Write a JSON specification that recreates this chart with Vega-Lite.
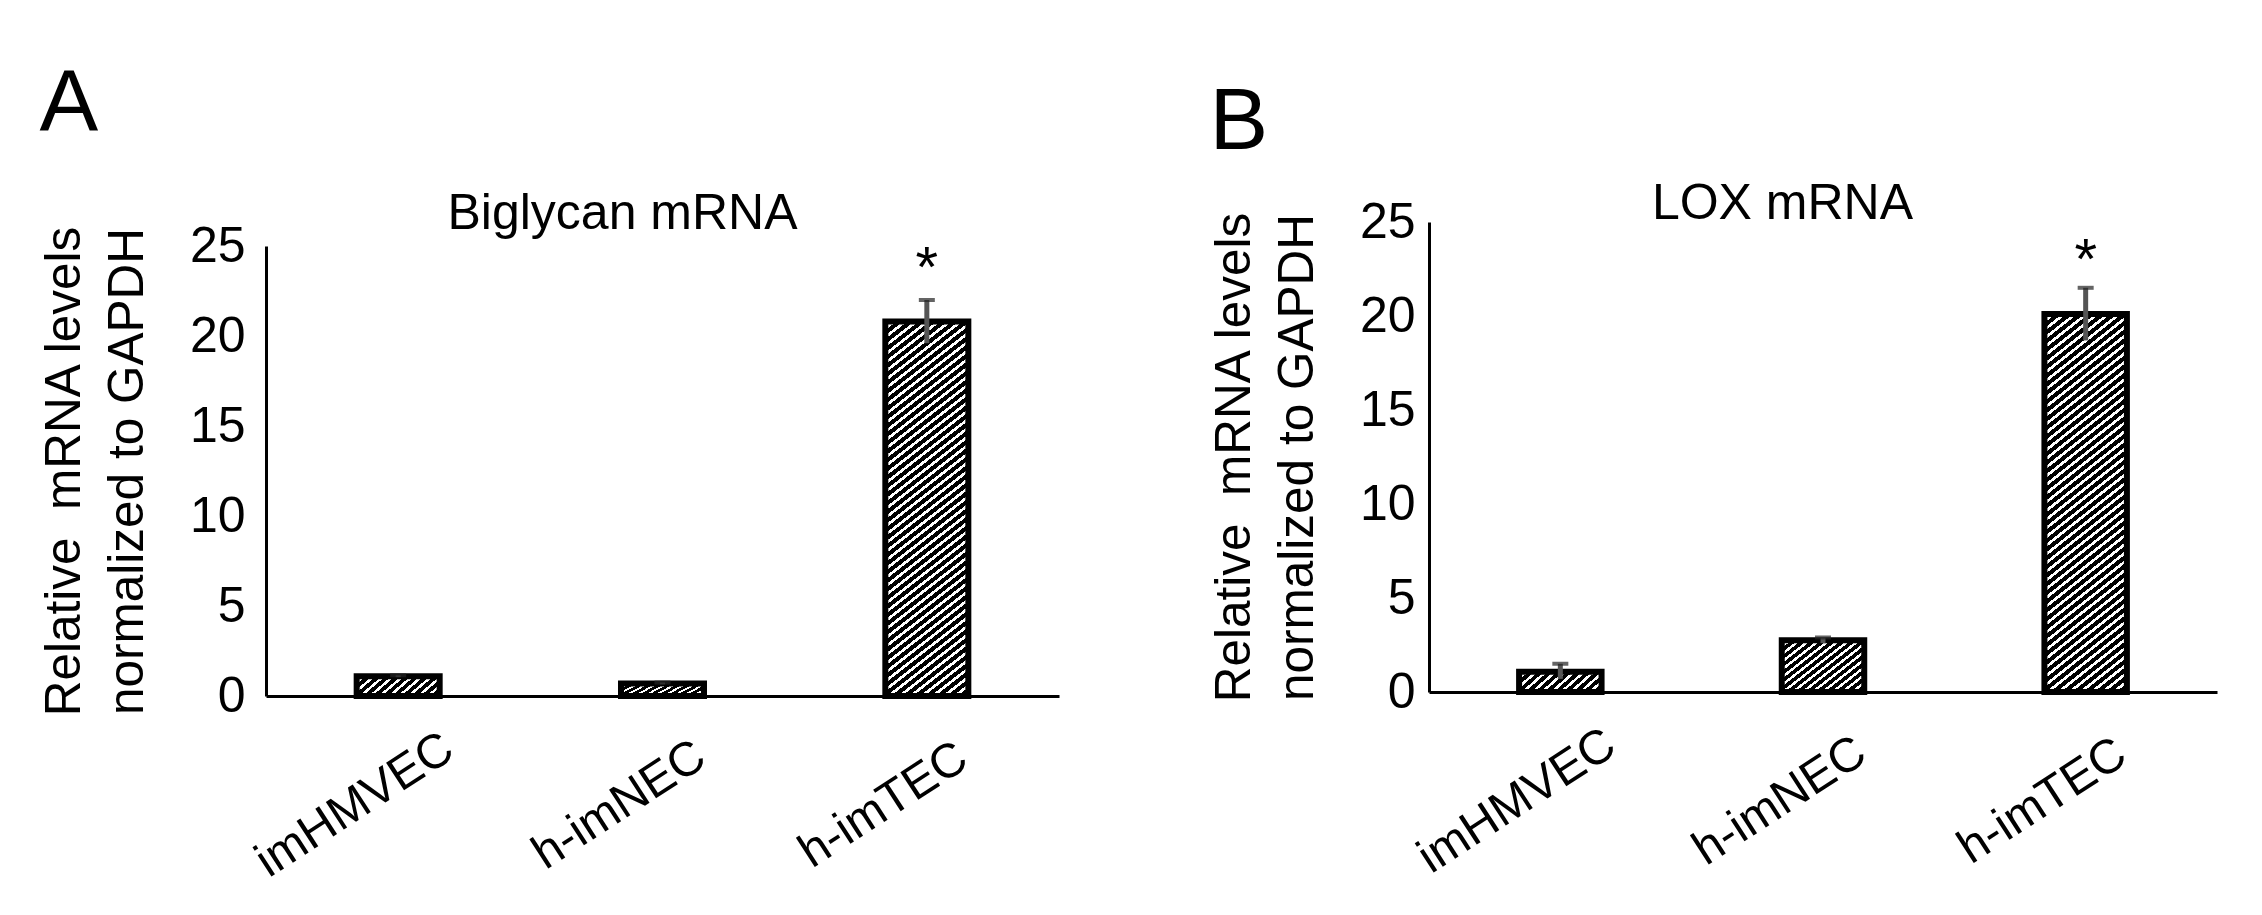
{
  "$schema": "https://vega.github.io/schema/vega-lite/v6.json",
  "background": "white",
  "bounds": "flush",
  "spacing": 370,
  "padding": {"top": 60, "left": 39, "right": 10, "bottom": 10},
  "config": {
    "font": "Liberation Sans",
    "view": {"stroke": null},
    "axis": {"labelColor": "#000", "titleColor": "#000", "domainColor": "#000", "labelFont": "Liberation Sans", "titleFont": "Liberation Sans", "titleFontWeight": "normal", "grid": false},
    "title": {"color": "#000", "fontWeight": "normal", "font": "Liberation Sans"}
  },
  "hconcat": [
    {
      "width": 793,
      "height": 474,
      "title": {"text": "A", "anchor": "start", "frame": "bounds", "fontSize": 88, "offset": 40},
      "data": {"values": [
        {"cell": "imHMVEC", "value": 1.1, "lower": 1.05, "upper": 1.15, "sig": ""},
        {"cell": "h-imNEC", "value": 0.7, "lower": 0.65, "upper": 0.75, "sig": ""},
        {"cell": "h-imTEC", "value": 20.8, "lower": 19.6, "upper": 22.0, "sig": "*"}
      ]},
      "resolve": {"axis": {"x": "independent", "y": "independent"}},
      "layer": [
        {
          "mark": {"type": "bar", "stroke": "#000", "strokeWidth": 6},
          "encoding": {
            "x": {"field": "cell", "type": "nominal", "sort": null, "scale": {"paddingInner": 0.686, "paddingOuter": 0.343},
              "axis": {"orient": "bottom", "title": null, "labelAngle": -33, "labelAlign": "center", "labelBaseline": "middle", "labelFontSize": 48, "labelPadding": 109, "labelOffset": -43, "labelLimit": 500, "ticks": false, "tickSize": 0, "domainWidth": 3}},
            "y": {"field": "value", "type": "quantitative", "scale": {"domain": [0, 25], "nice": false, "range": [474, 24]},
              "axis": {"orient": "left", "values": [0, 5, 10, 15, 20, 25], "title": ["Relative\u00a0\u00a0mRNA levels", "normalized to GAPDH"], "titleFontSize": 49.5, "titleLineHeight": 63, "titlePadding": 37, "labelFontSize": 50, "labelPadding": 21, "ticks": false, "tickSize": 0, "domainWidth": 3}},
            "fill": {
              "condition": [
                {"test": "datum.value > 10", "value": {"gradient": "linear", "x1": 0, "y1": 0, "x2": 0.19602, "y2": 1.13845, "stops": [
{"offset":0,"color":"#000"},{"offset":0.011765,"color":"#000"},{"offset":0.011765,"color":"#fff"},{"offset":0.019608,"color":"#fff"},
{"offset":0.019608,"color":"#000"},{"offset":0.031373,"color":"#000"},{"offset":0.031373,"color":"#fff"},{"offset":0.039216,"color":"#fff"},
{"offset":0.039216,"color":"#000"},{"offset":0.05098,"color":"#000"},{"offset":0.05098,"color":"#fff"},{"offset":0.058824,"color":"#fff"},
{"offset":0.058824,"color":"#000"},{"offset":0.070588,"color":"#000"},{"offset":0.070588,"color":"#fff"},{"offset":0.078431,"color":"#fff"},
{"offset":0.078431,"color":"#000"},{"offset":0.090196,"color":"#000"},{"offset":0.090196,"color":"#fff"},{"offset":0.098039,"color":"#fff"},
{"offset":0.098039,"color":"#000"},{"offset":0.109804,"color":"#000"},{"offset":0.109804,"color":"#fff"},{"offset":0.117647,"color":"#fff"},
{"offset":0.117647,"color":"#000"},{"offset":0.129412,"color":"#000"},{"offset":0.129412,"color":"#fff"},{"offset":0.137255,"color":"#fff"},
{"offset":0.137255,"color":"#000"},{"offset":0.14902,"color":"#000"},{"offset":0.14902,"color":"#fff"},{"offset":0.156863,"color":"#fff"},
{"offset":0.156863,"color":"#000"},{"offset":0.168627,"color":"#000"},{"offset":0.168627,"color":"#fff"},{"offset":0.176471,"color":"#fff"},
{"offset":0.176471,"color":"#000"},{"offset":0.188235,"color":"#000"},{"offset":0.188235,"color":"#fff"},{"offset":0.196078,"color":"#fff"},
{"offset":0.196078,"color":"#000"},{"offset":0.207843,"color":"#000"},{"offset":0.207843,"color":"#fff"},{"offset":0.215686,"color":"#fff"},
{"offset":0.215686,"color":"#000"},{"offset":0.227451,"color":"#000"},{"offset":0.227451,"color":"#fff"},{"offset":0.235294,"color":"#fff"},
{"offset":0.235294,"color":"#000"},{"offset":0.247059,"color":"#000"},{"offset":0.247059,"color":"#fff"},{"offset":0.254902,"color":"#fff"},
{"offset":0.254902,"color":"#000"},{"offset":0.266667,"color":"#000"},{"offset":0.266667,"color":"#fff"},{"offset":0.27451,"color":"#fff"},
{"offset":0.27451,"color":"#000"},{"offset":0.286275,"color":"#000"},{"offset":0.286275,"color":"#fff"},{"offset":0.294118,"color":"#fff"},
{"offset":0.294118,"color":"#000"},{"offset":0.305882,"color":"#000"},{"offset":0.305882,"color":"#fff"},{"offset":0.313725,"color":"#fff"},
{"offset":0.313725,"color":"#000"},{"offset":0.32549,"color":"#000"},{"offset":0.32549,"color":"#fff"},{"offset":0.333333,"color":"#fff"},
{"offset":0.333333,"color":"#000"},{"offset":0.345098,"color":"#000"},{"offset":0.345098,"color":"#fff"},{"offset":0.352941,"color":"#fff"},
{"offset":0.352941,"color":"#000"},{"offset":0.364706,"color":"#000"},{"offset":0.364706,"color":"#fff"},{"offset":0.372549,"color":"#fff"},
{"offset":0.372549,"color":"#000"},{"offset":0.384314,"color":"#000"},{"offset":0.384314,"color":"#fff"},{"offset":0.392157,"color":"#fff"},
{"offset":0.392157,"color":"#000"},{"offset":0.403922,"color":"#000"},{"offset":0.403922,"color":"#fff"},{"offset":0.411765,"color":"#fff"},
{"offset":0.411765,"color":"#000"},{"offset":0.423529,"color":"#000"},{"offset":0.423529,"color":"#fff"},{"offset":0.431373,"color":"#fff"},
{"offset":0.431373,"color":"#000"},{"offset":0.443137,"color":"#000"},{"offset":0.443137,"color":"#fff"},{"offset":0.45098,"color":"#fff"},
{"offset":0.45098,"color":"#000"},{"offset":0.462745,"color":"#000"},{"offset":0.462745,"color":"#fff"},{"offset":0.470588,"color":"#fff"},
{"offset":0.470588,"color":"#000"},{"offset":0.482353,"color":"#000"},{"offset":0.482353,"color":"#fff"},{"offset":0.490196,"color":"#fff"},
{"offset":0.490196,"color":"#000"},{"offset":0.501961,"color":"#000"},{"offset":0.501961,"color":"#fff"},{"offset":0.509804,"color":"#fff"},
{"offset":0.509804,"color":"#000"},{"offset":0.521569,"color":"#000"},{"offset":0.521569,"color":"#fff"},{"offset":0.529412,"color":"#fff"},
{"offset":0.529412,"color":"#000"},{"offset":0.541176,"color":"#000"},{"offset":0.541176,"color":"#fff"},{"offset":0.54902,"color":"#fff"},
{"offset":0.54902,"color":"#000"},{"offset":0.560784,"color":"#000"},{"offset":0.560784,"color":"#fff"},{"offset":0.568627,"color":"#fff"},
{"offset":0.568627,"color":"#000"},{"offset":0.580392,"color":"#000"},{"offset":0.580392,"color":"#fff"},{"offset":0.588235,"color":"#fff"},
{"offset":0.588235,"color":"#000"},{"offset":0.6,"color":"#000"},{"offset":0.6,"color":"#fff"},{"offset":0.607843,"color":"#fff"},
{"offset":0.607843,"color":"#000"},{"offset":0.619608,"color":"#000"},{"offset":0.619608,"color":"#fff"},{"offset":0.627451,"color":"#fff"},
{"offset":0.627451,"color":"#000"},{"offset":0.639216,"color":"#000"},{"offset":0.639216,"color":"#fff"},{"offset":0.647059,"color":"#fff"},
{"offset":0.647059,"color":"#000"},{"offset":0.658824,"color":"#000"},{"offset":0.658824,"color":"#fff"},{"offset":0.666667,"color":"#fff"},
{"offset":0.666667,"color":"#000"},{"offset":0.678431,"color":"#000"},{"offset":0.678431,"color":"#fff"},{"offset":0.686275,"color":"#fff"},
{"offset":0.686275,"color":"#000"},{"offset":0.698039,"color":"#000"},{"offset":0.698039,"color":"#fff"},{"offset":0.705882,"color":"#fff"},
{"offset":0.705882,"color":"#000"},{"offset":0.717647,"color":"#000"},{"offset":0.717647,"color":"#fff"},{"offset":0.72549,"color":"#fff"},
{"offset":0.72549,"color":"#000"},{"offset":0.737255,"color":"#000"},{"offset":0.737255,"color":"#fff"},{"offset":0.745098,"color":"#fff"},
{"offset":0.745098,"color":"#000"},{"offset":0.756863,"color":"#000"},{"offset":0.756863,"color":"#fff"},{"offset":0.764706,"color":"#fff"},
{"offset":0.764706,"color":"#000"},{"offset":0.776471,"color":"#000"},{"offset":0.776471,"color":"#fff"},{"offset":0.784314,"color":"#fff"},
{"offset":0.784314,"color":"#000"},{"offset":0.796078,"color":"#000"},{"offset":0.796078,"color":"#fff"},{"offset":0.803922,"color":"#fff"},
{"offset":0.803922,"color":"#000"},{"offset":0.815686,"color":"#000"},{"offset":0.815686,"color":"#fff"},{"offset":0.823529,"color":"#fff"},
{"offset":0.823529,"color":"#000"},{"offset":0.835294,"color":"#000"},{"offset":0.835294,"color":"#fff"},{"offset":0.843137,"color":"#fff"},
{"offset":0.843137,"color":"#000"},{"offset":0.854902,"color":"#000"},{"offset":0.854902,"color":"#fff"},{"offset":0.862745,"color":"#fff"},
{"offset":0.862745,"color":"#000"},{"offset":0.87451,"color":"#000"},{"offset":0.87451,"color":"#fff"},{"offset":0.882353,"color":"#fff"},
{"offset":0.882353,"color":"#000"},{"offset":0.894118,"color":"#000"},{"offset":0.894118,"color":"#fff"},{"offset":0.901961,"color":"#fff"},
{"offset":0.901961,"color":"#000"},{"offset":0.913725,"color":"#000"},{"offset":0.913725,"color":"#fff"},{"offset":0.921569,"color":"#fff"},
{"offset":0.921569,"color":"#000"},{"offset":0.933333,"color":"#000"},{"offset":0.933333,"color":"#fff"},{"offset":0.941176,"color":"#fff"},
{"offset":0.941176,"color":"#000"},{"offset":0.952941,"color":"#000"},{"offset":0.952941,"color":"#fff"},{"offset":0.960784,"color":"#fff"},
{"offset":0.960784,"color":"#000"},{"offset":0.972549,"color":"#000"},{"offset":0.972549,"color":"#fff"},{"offset":0.980392,"color":"#fff"},
{"offset":0.980392,"color":"#000"},{"offset":0.992157,"color":"#000"},{"offset":0.992157,"color":"#fff"},{"offset":1,"color":"#fff"}
                ]}}
              ],
              "value": {"gradient": "linear", "x1": 0, "y1": 0, "x2": 1.18632, "y2": 0.32984, "stops": [
{"offset":0,"color":"#000"},{"offset":0.0545,"color":"#000"},{"offset":0.0545,"color":"#fff"},{"offset":0.0909,"color":"#fff"},
{"offset":0.0909,"color":"#000"},{"offset":0.1455,"color":"#000"},{"offset":0.1455,"color":"#fff"},{"offset":0.1818,"color":"#fff"},
{"offset":0.1818,"color":"#000"},{"offset":0.2364,"color":"#000"},{"offset":0.2364,"color":"#fff"},{"offset":0.2727,"color":"#fff"},
{"offset":0.2727,"color":"#000"},{"offset":0.3273,"color":"#000"},{"offset":0.3273,"color":"#fff"},{"offset":0.3636,"color":"#fff"},
{"offset":0.3636,"color":"#000"},{"offset":0.4182,"color":"#000"},{"offset":0.4182,"color":"#fff"},{"offset":0.4545,"color":"#fff"},
{"offset":0.4545,"color":"#000"},{"offset":0.5091,"color":"#000"},{"offset":0.5091,"color":"#fff"},{"offset":0.5455,"color":"#fff"},
{"offset":0.5455,"color":"#000"},{"offset":0.6,"color":"#000"},{"offset":0.6,"color":"#fff"},{"offset":0.6364,"color":"#fff"},
{"offset":0.6364,"color":"#000"},{"offset":0.6909,"color":"#000"},{"offset":0.6909,"color":"#fff"},{"offset":0.7273,"color":"#fff"},
{"offset":0.7273,"color":"#000"},{"offset":0.7818,"color":"#000"},{"offset":0.7818,"color":"#fff"},{"offset":0.8182,"color":"#fff"},
{"offset":0.8182,"color":"#000"},{"offset":0.8727,"color":"#000"},{"offset":0.8727,"color":"#fff"},{"offset":0.9091,"color":"#fff"},
{"offset":0.9091,"color":"#000"},{"offset":0.9636,"color":"#000"},{"offset":0.9636,"color":"#fff"},{"offset":1,"color":"#fff"}
              ]}
            }
          }
        },
        {
          "mark": {"type": "rule", "color": "#555", "strokeWidth": 5},
          "encoding": {
            "x": {"field": "cell", "type": "nominal", "sort": null, "axis": null},
            "y": {"field": "lower", "type": "quantitative", "scale": {"domain": [0, 25], "nice": false, "range": [474, 24]}, "axis": null},
            "y2": {"field": "upper"}
          }
        },
        {
          "mark": {"type": "tick", "color": "#222", "thickness": 4, "size": 16},
          "encoding": {
            "x": {"field": "cell", "type": "nominal", "sort": null, "axis": null},
            "y": {"field": "upper", "type": "quantitative", "scale": {"domain": [0, 25], "nice": false, "range": [474, 24]}, "axis": null}
          }
        },
        {
          "mark": {"type": "text", "fontSize": 58, "baseline": "alphabetic", "dy": -13, "color": "#000"},
          "encoding": {
            "x": {"field": "cell", "type": "nominal", "sort": null,
              "axis": {"orient": "top", "title": "Biglycan mRNA", "labels": false, "ticks": false, "domainOpacity": 0, "titleFontSize": 50, "titleX": 356, "titleY": 6.5, "titleBaseline": "alphabetic", "titleAlign": "center"}},
            "y": {"field": "upper", "type": "quantitative", "scale": {"domain": [0, 25], "nice": false, "range": [474, 24]}, "axis": null},
            "text": {"field": "sig"}
          }
        }
      ]
    },
    {
      "width": 788,
      "height": 470,
      "title": {"text": "B", "anchor": "start", "frame": "bounds", "fontSize": 88, "offset": 12},
      "data": {"values": [
        {"cell": "imHMVEC", "value": 1.08, "lower": 0.7, "upper": 1.5, "sig": ""},
        {"cell": "h-imNEC", "value": 2.75, "lower": 2.6, "upper": 2.9, "sig": ""},
        {"cell": "h-imTEC", "value": 20.1, "lower": 18.7, "upper": 21.5, "sig": "*"}
      ]},
      "resolve": {"axis": {"x": "independent", "y": "independent"}},
      "layer": [
        {
          "mark": {"type": "bar", "stroke": "#000", "strokeWidth": 6},
          "encoding": {
            "x": {"field": "cell", "type": "nominal", "sort": null, "scale": {"paddingInner": 0.686, "paddingOuter": 0.343},
              "axis": {"orient": "bottom", "title": null, "labelAngle": -33, "labelAlign": "center", "labelBaseline": "middle", "labelFontSize": 48, "labelPadding": 109, "labelOffset": -43, "labelLimit": 500, "ticks": false, "tickSize": 0, "domainWidth": 3}},
            "y": {"field": "value", "type": "quantitative", "scale": {"domain": [0, 25], "nice": false},
              "axis": {"orient": "left", "values": [0, 5, 10, 15, 20, 25], "title": ["Relative\u00a0\u00a0mRNA levels", "normalized to GAPDH"], "titleFontSize": 49.5, "titleLineHeight": 63, "titlePadding": 37, "labelFontSize": 50, "labelPadding": 14, "ticks": false, "tickSize": 0, "domainWidth": 3}},
            "fill": {
              "condition": [
                {"test": "datum.value > 10", "value": {"gradient": "linear", "x1": 0, "y1": 0, "x2": 0.19602, "y2": 1.13845, "stops": [
{"offset":0,"color":"#000"},{"offset":0.011765,"color":"#000"},{"offset":0.011765,"color":"#fff"},{"offset":0.019608,"color":"#fff"},
{"offset":0.019608,"color":"#000"},{"offset":0.031373,"color":"#000"},{"offset":0.031373,"color":"#fff"},{"offset":0.039216,"color":"#fff"},
{"offset":0.039216,"color":"#000"},{"offset":0.05098,"color":"#000"},{"offset":0.05098,"color":"#fff"},{"offset":0.058824,"color":"#fff"},
{"offset":0.058824,"color":"#000"},{"offset":0.070588,"color":"#000"},{"offset":0.070588,"color":"#fff"},{"offset":0.078431,"color":"#fff"},
{"offset":0.078431,"color":"#000"},{"offset":0.090196,"color":"#000"},{"offset":0.090196,"color":"#fff"},{"offset":0.098039,"color":"#fff"},
{"offset":0.098039,"color":"#000"},{"offset":0.109804,"color":"#000"},{"offset":0.109804,"color":"#fff"},{"offset":0.117647,"color":"#fff"},
{"offset":0.117647,"color":"#000"},{"offset":0.129412,"color":"#000"},{"offset":0.129412,"color":"#fff"},{"offset":0.137255,"color":"#fff"},
{"offset":0.137255,"color":"#000"},{"offset":0.14902,"color":"#000"},{"offset":0.14902,"color":"#fff"},{"offset":0.156863,"color":"#fff"},
{"offset":0.156863,"color":"#000"},{"offset":0.168627,"color":"#000"},{"offset":0.168627,"color":"#fff"},{"offset":0.176471,"color":"#fff"},
{"offset":0.176471,"color":"#000"},{"offset":0.188235,"color":"#000"},{"offset":0.188235,"color":"#fff"},{"offset":0.196078,"color":"#fff"},
{"offset":0.196078,"color":"#000"},{"offset":0.207843,"color":"#000"},{"offset":0.207843,"color":"#fff"},{"offset":0.215686,"color":"#fff"},
{"offset":0.215686,"color":"#000"},{"offset":0.227451,"color":"#000"},{"offset":0.227451,"color":"#fff"},{"offset":0.235294,"color":"#fff"},
{"offset":0.235294,"color":"#000"},{"offset":0.247059,"color":"#000"},{"offset":0.247059,"color":"#fff"},{"offset":0.254902,"color":"#fff"},
{"offset":0.254902,"color":"#000"},{"offset":0.266667,"color":"#000"},{"offset":0.266667,"color":"#fff"},{"offset":0.27451,"color":"#fff"},
{"offset":0.27451,"color":"#000"},{"offset":0.286275,"color":"#000"},{"offset":0.286275,"color":"#fff"},{"offset":0.294118,"color":"#fff"},
{"offset":0.294118,"color":"#000"},{"offset":0.305882,"color":"#000"},{"offset":0.305882,"color":"#fff"},{"offset":0.313725,"color":"#fff"},
{"offset":0.313725,"color":"#000"},{"offset":0.32549,"color":"#000"},{"offset":0.32549,"color":"#fff"},{"offset":0.333333,"color":"#fff"},
{"offset":0.333333,"color":"#000"},{"offset":0.345098,"color":"#000"},{"offset":0.345098,"color":"#fff"},{"offset":0.352941,"color":"#fff"},
{"offset":0.352941,"color":"#000"},{"offset":0.364706,"color":"#000"},{"offset":0.364706,"color":"#fff"},{"offset":0.372549,"color":"#fff"},
{"offset":0.372549,"color":"#000"},{"offset":0.384314,"color":"#000"},{"offset":0.384314,"color":"#fff"},{"offset":0.392157,"color":"#fff"},
{"offset":0.392157,"color":"#000"},{"offset":0.403922,"color":"#000"},{"offset":0.403922,"color":"#fff"},{"offset":0.411765,"color":"#fff"},
{"offset":0.411765,"color":"#000"},{"offset":0.423529,"color":"#000"},{"offset":0.423529,"color":"#fff"},{"offset":0.431373,"color":"#fff"},
{"offset":0.431373,"color":"#000"},{"offset":0.443137,"color":"#000"},{"offset":0.443137,"color":"#fff"},{"offset":0.45098,"color":"#fff"},
{"offset":0.45098,"color":"#000"},{"offset":0.462745,"color":"#000"},{"offset":0.462745,"color":"#fff"},{"offset":0.470588,"color":"#fff"},
{"offset":0.470588,"color":"#000"},{"offset":0.482353,"color":"#000"},{"offset":0.482353,"color":"#fff"},{"offset":0.490196,"color":"#fff"},
{"offset":0.490196,"color":"#000"},{"offset":0.501961,"color":"#000"},{"offset":0.501961,"color":"#fff"},{"offset":0.509804,"color":"#fff"},
{"offset":0.509804,"color":"#000"},{"offset":0.521569,"color":"#000"},{"offset":0.521569,"color":"#fff"},{"offset":0.529412,"color":"#fff"},
{"offset":0.529412,"color":"#000"},{"offset":0.541176,"color":"#000"},{"offset":0.541176,"color":"#fff"},{"offset":0.54902,"color":"#fff"},
{"offset":0.54902,"color":"#000"},{"offset":0.560784,"color":"#000"},{"offset":0.560784,"color":"#fff"},{"offset":0.568627,"color":"#fff"},
{"offset":0.568627,"color":"#000"},{"offset":0.580392,"color":"#000"},{"offset":0.580392,"color":"#fff"},{"offset":0.588235,"color":"#fff"},
{"offset":0.588235,"color":"#000"},{"offset":0.6,"color":"#000"},{"offset":0.6,"color":"#fff"},{"offset":0.607843,"color":"#fff"},
{"offset":0.607843,"color":"#000"},{"offset":0.619608,"color":"#000"},{"offset":0.619608,"color":"#fff"},{"offset":0.627451,"color":"#fff"},
{"offset":0.627451,"color":"#000"},{"offset":0.639216,"color":"#000"},{"offset":0.639216,"color":"#fff"},{"offset":0.647059,"color":"#fff"},
{"offset":0.647059,"color":"#000"},{"offset":0.658824,"color":"#000"},{"offset":0.658824,"color":"#fff"},{"offset":0.666667,"color":"#fff"},
{"offset":0.666667,"color":"#000"},{"offset":0.678431,"color":"#000"},{"offset":0.678431,"color":"#fff"},{"offset":0.686275,"color":"#fff"},
{"offset":0.686275,"color":"#000"},{"offset":0.698039,"color":"#000"},{"offset":0.698039,"color":"#fff"},{"offset":0.705882,"color":"#fff"},
{"offset":0.705882,"color":"#000"},{"offset":0.717647,"color":"#000"},{"offset":0.717647,"color":"#fff"},{"offset":0.72549,"color":"#fff"},
{"offset":0.72549,"color":"#000"},{"offset":0.737255,"color":"#000"},{"offset":0.737255,"color":"#fff"},{"offset":0.745098,"color":"#fff"},
{"offset":0.745098,"color":"#000"},{"offset":0.756863,"color":"#000"},{"offset":0.756863,"color":"#fff"},{"offset":0.764706,"color":"#fff"},
{"offset":0.764706,"color":"#000"},{"offset":0.776471,"color":"#000"},{"offset":0.776471,"color":"#fff"},{"offset":0.784314,"color":"#fff"},
{"offset":0.784314,"color":"#000"},{"offset":0.796078,"color":"#000"},{"offset":0.796078,"color":"#fff"},{"offset":0.803922,"color":"#fff"},
{"offset":0.803922,"color":"#000"},{"offset":0.815686,"color":"#000"},{"offset":0.815686,"color":"#fff"},{"offset":0.823529,"color":"#fff"},
{"offset":0.823529,"color":"#000"},{"offset":0.835294,"color":"#000"},{"offset":0.835294,"color":"#fff"},{"offset":0.843137,"color":"#fff"},
{"offset":0.843137,"color":"#000"},{"offset":0.854902,"color":"#000"},{"offset":0.854902,"color":"#fff"},{"offset":0.862745,"color":"#fff"},
{"offset":0.862745,"color":"#000"},{"offset":0.87451,"color":"#000"},{"offset":0.87451,"color":"#fff"},{"offset":0.882353,"color":"#fff"},
{"offset":0.882353,"color":"#000"},{"offset":0.894118,"color":"#000"},{"offset":0.894118,"color":"#fff"},{"offset":0.901961,"color":"#fff"},
{"offset":0.901961,"color":"#000"},{"offset":0.913725,"color":"#000"},{"offset":0.913725,"color":"#fff"},{"offset":0.921569,"color":"#fff"},
{"offset":0.921569,"color":"#000"},{"offset":0.933333,"color":"#000"},{"offset":0.933333,"color":"#fff"},{"offset":0.941176,"color":"#fff"},
{"offset":0.941176,"color":"#000"},{"offset":0.952941,"color":"#000"},{"offset":0.952941,"color":"#fff"},{"offset":0.960784,"color":"#fff"},
{"offset":0.960784,"color":"#000"},{"offset":0.972549,"color":"#000"},{"offset":0.972549,"color":"#fff"},{"offset":0.980392,"color":"#fff"},
{"offset":0.980392,"color":"#000"},{"offset":0.992157,"color":"#000"},{"offset":0.992157,"color":"#fff"},{"offset":1,"color":"#fff"}
                ]}},
                {"test": "datum.value > 2", "value": {"gradient": "linear", "x1": 0, "y1": 0, "x2": 1.0961, "y2": 0.8804, "stops": [
{"offset":0,"color":"#000"},{"offset":0.04,"color":"#000"},{"offset":0.04,"color":"#fff"},{"offset":0.0667,"color":"#fff"},
{"offset":0.0667,"color":"#000"},{"offset":0.1067,"color":"#000"},{"offset":0.1067,"color":"#fff"},{"offset":0.1333,"color":"#fff"},
{"offset":0.1333,"color":"#000"},{"offset":0.1733,"color":"#000"},{"offset":0.1733,"color":"#fff"},{"offset":0.2,"color":"#fff"},
{"offset":0.2,"color":"#000"},{"offset":0.24,"color":"#000"},{"offset":0.24,"color":"#fff"},{"offset":0.2667,"color":"#fff"},
{"offset":0.2667,"color":"#000"},{"offset":0.3067,"color":"#000"},{"offset":0.3067,"color":"#fff"},{"offset":0.3333,"color":"#fff"},
{"offset":0.3333,"color":"#000"},{"offset":0.3733,"color":"#000"},{"offset":0.3733,"color":"#fff"},{"offset":0.4,"color":"#fff"},
{"offset":0.4,"color":"#000"},{"offset":0.44,"color":"#000"},{"offset":0.44,"color":"#fff"},{"offset":0.4667,"color":"#fff"},
{"offset":0.4667,"color":"#000"},{"offset":0.5067,"color":"#000"},{"offset":0.5067,"color":"#fff"},{"offset":0.5333,"color":"#fff"},
{"offset":0.5333,"color":"#000"},{"offset":0.5733,"color":"#000"},{"offset":0.5733,"color":"#fff"},{"offset":0.6,"color":"#fff"},
{"offset":0.6,"color":"#000"},{"offset":0.64,"color":"#000"},{"offset":0.64,"color":"#fff"},{"offset":0.6667,"color":"#fff"},
{"offset":0.6667,"color":"#000"},{"offset":0.7067,"color":"#000"},{"offset":0.7067,"color":"#fff"},{"offset":0.7333,"color":"#fff"},
{"offset":0.7333,"color":"#000"},{"offset":0.7733,"color":"#000"},{"offset":0.7733,"color":"#fff"},{"offset":0.8,"color":"#fff"},
{"offset":0.8,"color":"#000"},{"offset":0.84,"color":"#000"},{"offset":0.84,"color":"#fff"},{"offset":0.8667,"color":"#fff"},
{"offset":0.8667,"color":"#000"},{"offset":0.9067,"color":"#000"},{"offset":0.9067,"color":"#fff"},{"offset":0.9333,"color":"#fff"},
{"offset":0.9333,"color":"#000"},{"offset":0.9733,"color":"#000"},{"offset":0.9733,"color":"#fff"},{"offset":1,"color":"#fff"}
                ]}}
              ],
              "value": {"gradient": "linear", "x1": 0, "y1": 0, "x2": 1.18632, "y2": 0.32984, "stops": [
{"offset":0,"color":"#000"},{"offset":0.0545,"color":"#000"},{"offset":0.0545,"color":"#fff"},{"offset":0.0909,"color":"#fff"},
{"offset":0.0909,"color":"#000"},{"offset":0.1455,"color":"#000"},{"offset":0.1455,"color":"#fff"},{"offset":0.1818,"color":"#fff"},
{"offset":0.1818,"color":"#000"},{"offset":0.2364,"color":"#000"},{"offset":0.2364,"color":"#fff"},{"offset":0.2727,"color":"#fff"},
{"offset":0.2727,"color":"#000"},{"offset":0.3273,"color":"#000"},{"offset":0.3273,"color":"#fff"},{"offset":0.3636,"color":"#fff"},
{"offset":0.3636,"color":"#000"},{"offset":0.4182,"color":"#000"},{"offset":0.4182,"color":"#fff"},{"offset":0.4545,"color":"#fff"},
{"offset":0.4545,"color":"#000"},{"offset":0.5091,"color":"#000"},{"offset":0.5091,"color":"#fff"},{"offset":0.5455,"color":"#fff"},
{"offset":0.5455,"color":"#000"},{"offset":0.6,"color":"#000"},{"offset":0.6,"color":"#fff"},{"offset":0.6364,"color":"#fff"},
{"offset":0.6364,"color":"#000"},{"offset":0.6909,"color":"#000"},{"offset":0.6909,"color":"#fff"},{"offset":0.7273,"color":"#fff"},
{"offset":0.7273,"color":"#000"},{"offset":0.7818,"color":"#000"},{"offset":0.7818,"color":"#fff"},{"offset":0.8182,"color":"#fff"},
{"offset":0.8182,"color":"#000"},{"offset":0.8727,"color":"#000"},{"offset":0.8727,"color":"#fff"},{"offset":0.9091,"color":"#fff"},
{"offset":0.9091,"color":"#000"},{"offset":0.9636,"color":"#000"},{"offset":0.9636,"color":"#fff"},{"offset":1,"color":"#fff"}
              ]}
            }
          }
        },
        {
          "mark": {"type": "rule", "color": "#555", "strokeWidth": 5},
          "encoding": {
            "x": {"field": "cell", "type": "nominal", "sort": null, "axis": null},
            "y": {"field": "lower", "type": "quantitative", "scale": {"domain": [0, 25], "nice": false}, "axis": null},
            "y2": {"field": "upper"}
          }
        },
        {
          "mark": {"type": "tick", "color": "#222", "thickness": 4, "size": 16},
          "encoding": {
            "x": {"field": "cell", "type": "nominal", "sort": null, "axis": null},
            "y": {"field": "upper", "type": "quantitative", "scale": {"domain": [0, 25], "nice": false}, "axis": null}
          }
        },
        {
          "mark": {"type": "text", "fontSize": 58, "baseline": "alphabetic", "dy": -9, "color": "#000"},
          "encoding": {
            "x": {"field": "cell", "type": "nominal", "sort": null,
              "axis": {"orient": "top", "title": "LOX  mRNA", "labels": false, "ticks": false, "domainOpacity": 0, "titleFontSize": 50, "titleX": 353, "titleY": -3.4, "titleBaseline": "alphabetic", "titleAlign": "center"}},
            "y": {"field": "upper", "type": "quantitative", "scale": {"domain": [0, 25], "nice": false}, "axis": null},
            "text": {"field": "sig"}
          }
        }
      ]
    }
  ]
}
